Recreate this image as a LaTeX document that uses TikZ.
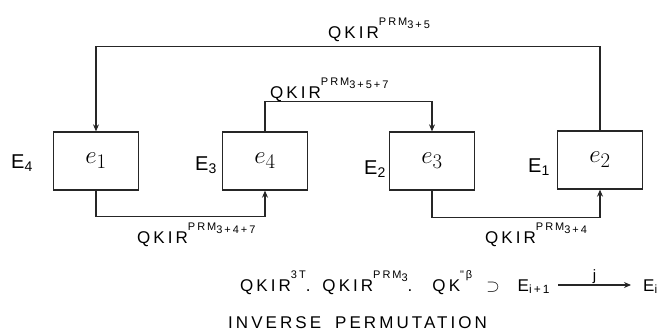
\documentclass[tikz,border=0pt]{standalone}
\usepackage{fontspec}
\usepackage{amsmath}
\setmainfont{Liberation Sans}
\newfontfamily\hand[LetterSpace=18]{Liberation Sans}
\usetikzlibrary{arrows.meta}
\newcommand\hsup[1]{\raisebox{0.75em}{\fontsize{11}{11}\selectfont #1}}
\newcommand\hsub[1]{\raisebox{-0.3em}{#1}}
\begin{document}
\begin{tikzpicture}[x=1pt,y=-1pt,
  ink/.style={draw=black!85, line width=1.3pt},
  box/.style={ink, minimum width=85pt, minimum height=58pt, inner sep=0pt, font=\fontsize{30}{30}\selectfont},
  conn/.style={draw=black!85, line width=1.1pt},
  arr/.style={conn, -{Stealth[length=7pt,width=6pt]}},
  lab/.style={font=\hand\fontsize{17}{17}\selectfont, inner sep=0pt},
  side/.style={font=\fontsize{20}{20}\selectfont, inner sep=0pt}]
\useasboundingbox (0,0) rectangle (667,332);
\node[box] (e1) at (96,161) {$e_1$};
\node[box] (e4) at (265,161) {$e_4$};
\node[box] (e3) at (432,161) {$e_3$};
\node[box] (e2) at (600,160) {$e_2$};
\node[side] (E4) at (22,163) {E\textsubscript{4}};
\node[side] (E3) at (206,165) {E\textsubscript{3}};
\node[side] (E2) at (375,169) {E\textsubscript{2}};
\node[side] (E1) at (539,167) {E\textsubscript{1}};
\draw[arr] (e2.north) -- ++(0,-84) coordinate (tr) -| (e1.north);
\draw[arr] (e4.north) -- ++(0,-30) coordinate (mr) -| (e3.north);
\draw[arr] (e1.south) -- ++(0,26) coordinate (bl) -| (e4.south);
\draw[arr] (e3.south) -- ++(0,27) coordinate (br) -| (e2.south);
\node[lab, anchor=base west] (t1) at (328,38) {QKIR\hsup{PRM\hsub{3+5}}};
\node[lab, anchor=base west] (t2) at (270,98) {QKIR\hsup{PRM\hsub{3+5+7}}};
\node[lab, anchor=base west] (t3) at (137,243) {QKIR\hsup{PRM\hsub{3+4+7}}};
\node[lab, anchor=base west] (t4) at (485,243) {QKIR\hsup{PRM\hsub{3+4}}};
\node[lab, anchor=base west] (f) at (240,291) {QKIR\hsup{3T}.\hspace{12pt}QKIR\hsup{PRM\hsub{3}}.\hspace{20pt}QK\hsup{"β}\hspace{14pt}$\supset$\hspace{18pt}E\textsubscript{i+1}};
\node[lab, anchor=base west] (fi) at (643,291) {E\textsubscript{i}};
\draw[arr] ([xshift=8pt,yshift=6pt]f.base east) -- node[lab, above=1pt, font=\hand\fontsize{15}{15}\selectfont] (j) {j} ([xshift=-12pt,yshift=6pt]fi.base west);
\node[lab, anchor=base west] (inv) at (228,328) {INVERSE\hspace{14pt}PERMUTATION};
\end{tikzpicture}
\end{document}
